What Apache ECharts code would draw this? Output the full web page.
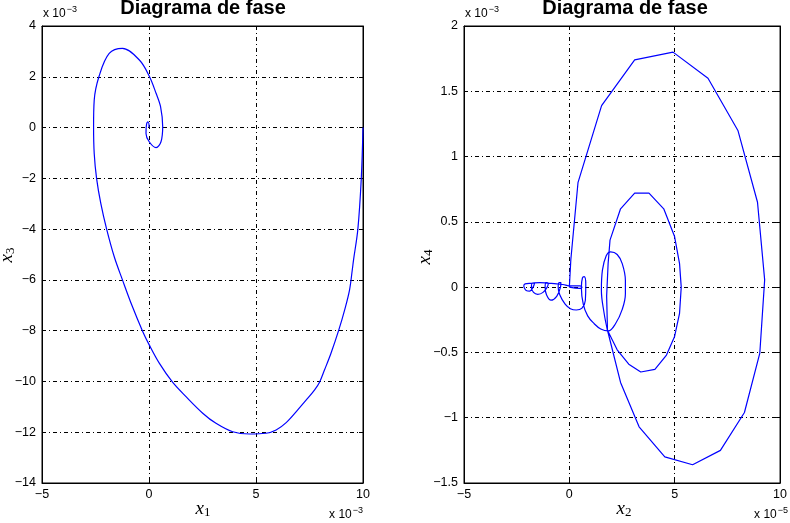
<!DOCTYPE html>
<html>
<head>
<meta charset="utf-8">
<script src="https://cdn.jsdelivr.net/npm/echarts@6/dist/echarts.min.js"></script>
<style>
  html, body, #main { width: 100%; height: 100%; margin: 0; background: #fff; }
</style>
</head>
<body>
<div id="main"></div>
<script>
// left panel: x1 (x 1e-3) against x3 (x 1e-3), from the start at (10,0) inward to the origin
var x1 = [10.0, 9.92, 9.76, 9.56, 9.5, 9.37, 9.14, 8.87, 8.5, 8.2, 7.97, 7.74, 7.35, 6.96, 6.41, 5.94, 5.47, 4.69,
          3.91, 3.13, 2.51, 1.73, 1.1, 0.48, 0.01, -0.3, -0.8, -1.24, -1.62, -1.98, -2.25, -2.45, -2.56, -2.59,
          -2.56, -2.33, -1.86, -1.24, -0.45, 0.01, 0.33, 0.54, 0.64, 0.56, 0.33, 0.01, -0.14, -0.12, -0.05, 0.0, 0.0];
var x3 = [0.0, -2.0, -4.0, -5.2, -5.6, -6.4, -7.19, -7.97, -8.9, -9.55, -10.03, -10.33, -10.73, -11.11, -11.62, -11.91, -12.04, -12.07,
          -11.98, -11.65, -11.25, -10.6, -10.03, -9.28, -8.56, -8.02, -7.0, -6.0, -5.1, -4.0, -3.0, -2.0, -1.02, 0.03,
          1.08, 2.03, 2.92, 3.12, 2.66, 2.03, 1.35, 0.82, 0.03, -0.56, -0.79, -0.56, -0.23, 0.1, 0.22, 0.1, 0.0];

// right panel: x2 (x 1e-5) against x4 (x 1e-3)
// the two big loops, drawn as straight segments like the original
var x2Big = [0, 0.07, 0.41, 1.53, 3.1, 4.92, 6.58, 8.0, 8.93, 9.27, 9.04, 8.31, 7.17, 5.85, 4.53, 3.31, 2.43, 1.81,
             1.77, 1.84, 1.93, 2.43, 3.10, 3.78, 4.48, 4.99, 5.23, 5.31, 5.23, 4.99, 4.61, 4.06, 3.39, 2.82, 2.27, 1.81];
var x4Big = [0, 0.21, 0.80, 1.39, 1.74, 1.80, 1.60, 1.20, 0.65, 0.056, -0.505, -0.96, -1.25, -1.36, -1.30, -1.07, -0.73, -0.33,
             -0.07, 0.18, 0.36, 0.60, 0.72, 0.72, 0.60, 0.39, 0.18, 0.0, -0.2, -0.38, -0.52, -0.63, -0.65, -0.59, -0.48, -0.33];
// the small loops that follow, drifting left and back to the origin
var x2Small = [1.81, 1.65, 1.52, 1.57, 1.75, 1.96, 2.27, 2.51, 2.66, 2.66, 2.51, 2.19, 1.85, 1.49, 1.18, 0.87, 0.66,
               0.57, 0.62, 0.70, 0.78, 0.76, 0.6, 0.33, 0.05, -0.2, -0.45, -0.53, -0.48, -0.4, -0.42, -0.6, -0.87,
               -1.08, -1.15, -1.1, -1.0, -1.05, -1.25, -1.5, -1.7, -1.8, -1.75, -1.65, -1.72, -1.88, -2.05, -2.14,
               -2.16, -2.1, -1.8, -1.4, -1.0, -0.6, -0.3, 0.0, 0.5, 0.6, 0.5, 0.0];
var x4Small = [-0.33, -0.2, -0.02, 0.13, 0.24, 0.27, 0.25, 0.18, 0.05, -0.05, -0.17, -0.28, -0.335, -0.32, -0.28, -0.22, -0.13,
               0.0, 0.07, 0.08, 0.02, -0.10, -0.16, -0.175, -0.165, -0.13, -0.06, 0.0, 0.035, 0.035, 0.0, -0.07, -0.10,
               -0.06, 0.0, 0.035, 0.03, 0.0, -0.04, -0.055, -0.04, 0.0, 0.03, 0.03, 0.0, -0.03, -0.025, -0.005,
               0.01, 0.025, 0.03, 0.035, 0.03, 0.025, 0.02, 0.01, 0.01, 0.0, -0.01, 0.0];

// axis ranges [min, max, interval]
var leftX = [-5, 10, 5], leftY = [-14, 4, 2];
var rightX = [-5, 10, 5], rightY = [-1.5, 2, 0.5];

function zip(a, b) { return a.map(function (v, i) { return [v, b[i]]; }); }
function minus(v) { return String(v).replace('-', '\u2212'); }

var font = 'Liberation Sans, Arial, Helvetica, sans-serif';
var serif = 'Liberation Serif, DejaVu Serif, serif';
var grids = [
  { left: 42, top: 26, width: 321, height: 457 },
  { left: 464, top: 26, width: 322, height: 457 }
];
var dash = { color: '#000', width: 1, type: [4, 3, 1, 3] };

function mainAxis(g, r, pos) {
  return {
    type: 'value', gridIndex: g, position: pos, min: r[0], max: r[1], interval: r[2],
    axisLine: { show: true, onZero: false, lineStyle: { color: '#000', width: 1 } },
    axisTick: { show: true, inside: true, length: 4, lineStyle: { color: '#000' } },
    axisLabel: { color: '#000', fontSize: 12.5, fontFamily: font, margin: pos === 'left' ? 6 : 5, formatter: minus },
    splitLine: { show: true, lineStyle: dash }
  };
}
function sideAxis(g, r, pos) {
  return {
    type: 'value', gridIndex: g, position: pos, min: r[0], max: r[1], interval: r[2],
    axisLine: { show: true, onZero: false, lineStyle: { color: '#000', width: 1 } },
    axisTick: { show: true, inside: true, length: 4, lineStyle: { color: '#000' } },
    axisLabel: { show: false }, splitLine: { show: false }
  };
}

function scaleText(x, y, exp, align) {
  return {
    type: 'text', left: align === 'right' ? null : x, right: align === 'right' ? 790 - x : null, top: y,
    style: {
      text: '{b|x 10}{s|' + exp + '}', fill: '#000',
      rich: {
        b: { fontSize: 12, fontFamily: font, verticalAlign: 'bottom', lineHeight: 15 },
        s: { fontSize: 9, fontFamily: font, verticalAlign: 'top', lineHeight: 15, padding: [0, 0, 8, 1] }
      }
    }
  };
}
function varText(x, y, sub, rot) {
  return {
    type: 'text', x: x, y: y, rotation: rot ? Math.PI / 2 : 0,
    style: {
      text: '{i|x}{s|' + sub + '}', align: 'center', verticalAlign: 'middle', fill: '#000',
      rich: {
        i: { fontSize: 19, fontStyle: 'italic', fontFamily: serif },
        s: { fontSize: 13, fontFamily: serif, padding: [7, 0, 0, 0] }
      }
    }
  };
}
function titleText(x) {
  return {
    type: 'text', x: x, y: 8,
    style: { text: 'Diagrama de fase', align: 'center', verticalAlign: 'middle',
             fontSize: 20, fontWeight: 'bold', fontFamily: font, fill: '#000' }
  };
}

var chart = echarts.init(document.getElementById('main'));
chart.setOption({
  backgroundColor: '#fff',
  animation: false,
  grid: grids.map(function (g) {
    return Object.assign({ show: true, borderColor: '#000', borderWidth: 1, backgroundColor: '#fff' }, g);
  }),
  xAxis: [mainAxis(0, leftX, 'bottom'), sideAxis(0, leftX, 'top'),
          mainAxis(1, rightX, 'bottom'), sideAxis(1, rightX, 'top')],
  yAxis: [mainAxis(0, leftY, 'left'), sideAxis(0, leftY, 'right'),
          mainAxis(1, rightY, 'left'), sideAxis(1, rightY, 'right')],
  series: [
    { type: 'line', xAxisIndex: 0, yAxisIndex: 0, data: zip(x1, x3), showSymbol: false, smooth: 0.35,
      lineStyle: { color: '#0000ff', width: 1.2 } },
    { type: 'line', xAxisIndex: 2, yAxisIndex: 2, data: zip(x2Big, x4Big), showSymbol: false,
      lineStyle: { color: '#0000ff', width: 1.2 } },
    { type: 'line', xAxisIndex: 2, yAxisIndex: 2, data: zip(x2Small, x4Small), showSymbol: false, smooth: 0.4,
      lineStyle: { color: '#0000ff', width: 1.2 } }
  ],
  graphic: [
    titleText(203), titleText(625),
    scaleText(43, 5, '\u22123'), scaleText(465, 5, '\u22123'),
    scaleText(363, 506, '\u22123', 'right'), scaleText(788, 506, '\u22125', 'right'),
    varText(203, 509, '1'), varText(624, 509, '2'),
    varText(7, 255, '3', true), varText(425, 257, '4', true)
  ]
});
window.onresize = chart.resize;
</script>
</body>
</html>
